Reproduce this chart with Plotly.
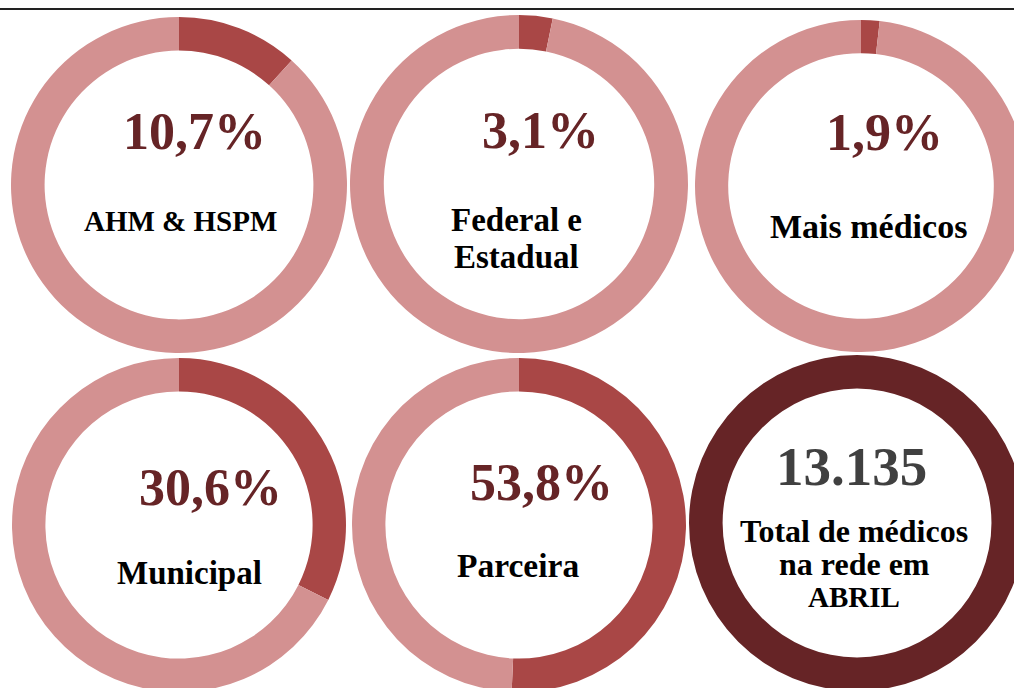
import plotly.graph_objects as go

# ---- data ----
categories = ["AHM & HSPM", "Federal e<br>Estadual", "Mais médicos", "Municipal", "Parceira"]
ring_share = [11.7, 3.2, 1.8, 32.4, 50.7]          # share drawn on each ring (%)
pct_labels = ["10,7%", "3,1%", "1,9%", "30,6%", "53,8%"]
total_value = "13.135"
total_lines = ["Total de médicos", "na rede em", "ABRIL"]

# ---- layout config (pixels, page coordinates) ----
W, H = 1040, 700          # figure a bit larger than the window; overflow is hidden
centers = [(179, 185, 168), (519, 184, 169), (861, 186, 166),
           (179, 525, 167), (519, 525, 167), (857, 523, 168)]
pct_pos = [(194, 131), (540, 130), (884, 133), (210, 487), (541, 483)]
cat_pos = [[(180, 221)], [(516, 220), (516, 257)], [(868, 226)], [(189, 573)], [(518, 565)]]
cat_size = [29, 33, 34, 33, 33.5]
total_pos = (851, 466)
total_line_pos = [(854, 531), (854, 564), (854, 597)]
total_line_size = [32, 32, 29]

LIGHT = "#D39191"
DARK = "#A94746"
DEEP = "#662426"
FONT = "Liberation Serif"


def domain(cx, cy, r):
    return dict(x=[(cx - r) / W, (cx + r) / W], y=[1 - (cy + r) / H, 1 - (cy - r) / H])


def label(x, y, text, size, color):
    return dict(x=x / W, y=1 - y / H, text=f"<b>{text}</b>", showarrow=False,
                xref="paper", yref="paper", xanchor="center", yanchor="middle",
                font=dict(family=FONT, size=size, color=color))


fig = go.Figure()
for i, cat in enumerate(categories):
    cx, cy, r = centers[i]
    fig.add_trace(go.Pie(
        values=[ring_share[i], 100 - ring_share[i]],
        labels=[cat.replace("<br>", " "), "Outros"],
        hole=0.8, sort=False, direction="clockwise", rotation=0,
        marker=dict(colors=[DARK, LIGHT], line=dict(width=0)),
        textinfo="none", hoverinfo="label+percent", showlegend=False,
        domain=domain(cx, cy, r),
    ))

cx, cy, r = centers[5]
fig.add_trace(go.Pie(
    values=[100], labels=["Total"], hole=0.8, sort=False,
    marker=dict(colors=[DEEP], line=dict(width=0)),
    textinfo="none", showlegend=False, domain=domain(cx, cy, r),
))

ann = []
for (x, y), t in zip(pct_pos, pct_labels):
    ann.append(label(x, y, t, 52, DEEP))
for i, cat in enumerate(categories):
    for (x, y), line in zip(cat_pos[i], cat.split("<br>")):
        ann.append(label(x, y, line, cat_size[i], "#000000"))
ann.append(label(total_pos[0], total_pos[1], total_value, 55, "#404040"))
for (x, y), t, s in zip(total_line_pos, total_lines, total_line_size):
    ann.append(label(x, y, t, s, "#000000"))

fig.update_layout(
    width=W, height=H, margin=dict(l=0, r=0, t=0, b=0),
    paper_bgcolor="white", plot_bgcolor="white",
    annotations=ann,
    shapes=[dict(type="line", xref="paper", yref="paper", x0=0, x1=1,
                 y0=1 - 9 / H, y1=1 - 9 / H, line=dict(color="#222222", width=2))],
)

fig.write_html(
    "out.html",
    config={"displayModeBar": False},
    post_script="document.documentElement.style.overflow='hidden';"
                "document.body.style.margin='0';document.body.style.overflow='hidden';",
)
